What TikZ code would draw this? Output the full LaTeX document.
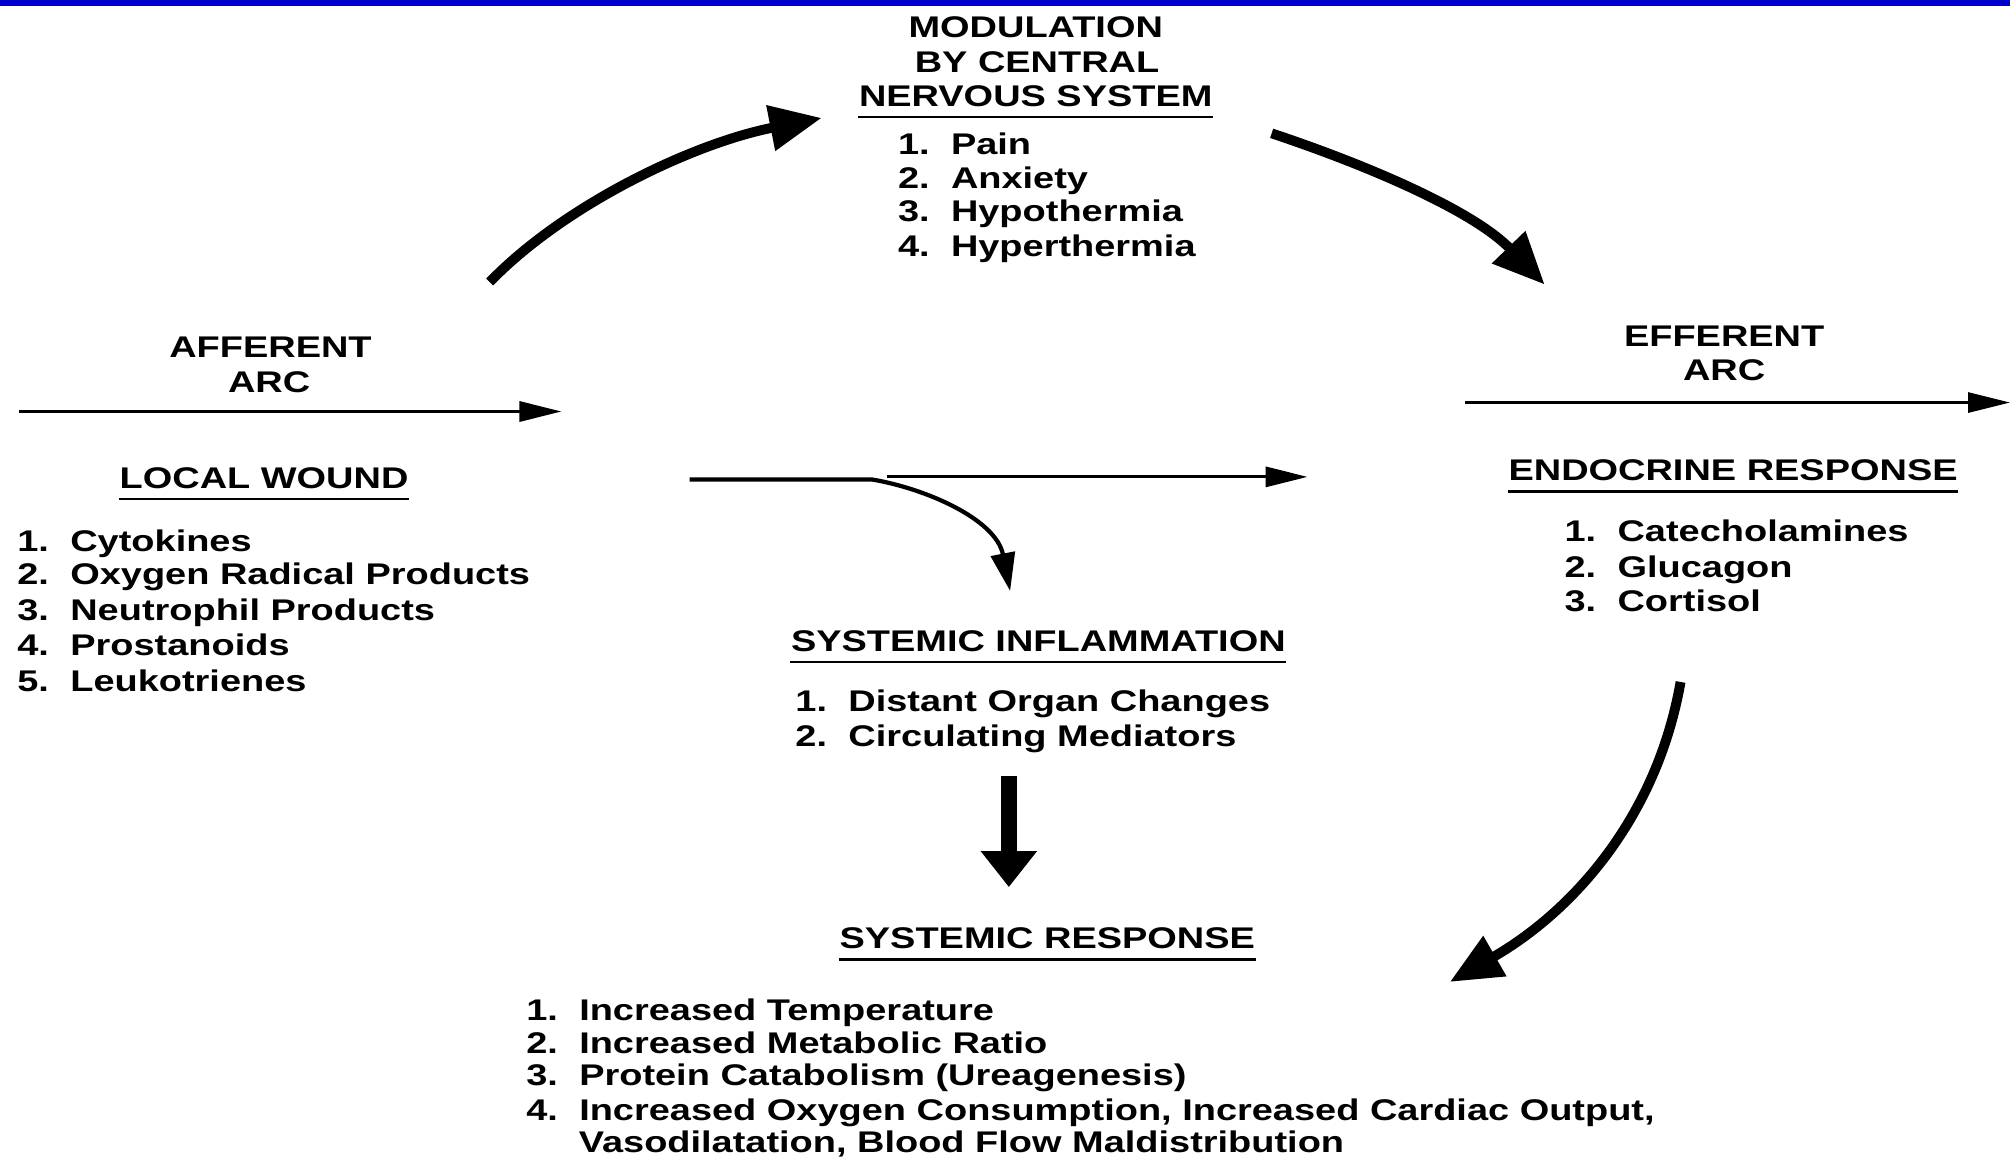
\documentclass[tikz,border=0pt]{standalone}
\usepackage{fontspec}
\setmainfont{Liberation Sans}[FakeStretch=1.27]
\usetikzlibrary{arrows.meta}
\definecolor{barblue}{RGB}{0,0,204}
% numbered list entry: number in a fixed-width box, then the text
\newcommand\itm[2]{\makebox[0.53cm][l]{#1}#2}
\begin{document}
\begin{tikzpicture}[x=0.012819cm, y=-0.012819cm,
  txt/.style={inner sep=0pt, yshift=-0.7pt, font=\fontsize{8.5}{10}\selectfont\bfseries},
  heading/.style={txt, anchor=mid},
  entry/.style={txt, anchor=mid west},
  ulrule/.style={line width=0.7pt},
  flowline/.style={line width=0.9pt, -{Triangle[length=0.42cm,width=0.2cm]}},
  sweep/.style={line width=2.8pt, -{Triangle[length=0.52cm,width=0.44cm]}},
]
\useasboundingbox (0,0) rectangle (1568,905);
\fill[white] (0,0) rectangle (1568,905);
\fill[barblue] (0,0) rectangle (1568,5);

% ---- central nervous system modulation (top) ----
\node[heading] (mod1) at (808,20) {MODULATION};
\node[heading] (mod2) at (809,47) {BY CENTRAL};
\node[heading] (mod3) at (808,74) {NERVOUS SYSTEM};
\draw[ulrule] ([yshift=-3pt]mod3.base west) -- ([yshift=-3pt]mod3.base east);
\node[entry] (cns1) at (700,111) {\itm{1.}{Pain}};
\node[entry] (cns2) at (700,138) {\itm{2.}{Anxiety}};
\node[entry] (cns3) at (700,164) {\itm{3.}{Hypothermia}};
\node[entry] (cns4) at (700,191) {\itm{4.}{Hyperthermia}};

% ---- afferent arc / local wound (left) ----
\node[heading] (aff1) at (211,270) {AFFERENT};
\node[heading] (aff2) at (210,297) {ARC};
\coordinate (affS) at (15,321);
\coordinate (affE) at (438,321);
\draw[flowline] (affS) -- (affE);
\node[heading] (lw) at (206,372) {LOCAL WOUND};
\draw[ulrule] ([yshift=-3pt]lw.base west) -- ([yshift=-3pt]lw.base east);
\node[entry] (lw1) at (13,421) {\itm{1.}{Cytokines}};
\node[entry] (lw2) at (13,447) {\itm{2.}{Oxygen Radical Products}};
\node[entry] (lw3) at (13,475) {\itm{3.}{Neutrophil Products}};
\node[entry] (lw4) at (13,502) {\itm{4.}{Prostanoids}};
\node[entry] (lw5) at (13,530) {\itm{5.}{Leukotrienes}};

% ---- efferent arc / endocrine response (right) ----
\node[heading] (eff1) at (1345,261) {EFFERENT};
\node[heading] (eff2) at (1345,288) {ARC};
\coordinate (effS) at (1143,314);
\coordinate (effE) at (1568,314);
\draw[flowline] (effS) -- (effE);
\node[heading] (endo) at (1352,366) {ENDOCRINE RESPONSE};
\draw[ulrule] ([yshift=-3pt]endo.base west) -- ([yshift=-3pt]endo.base east);
\node[entry] (endo1) at (1220,413) {\itm{1.}{Catecholamines}};
\node[entry] (endo2) at (1220,441) {\itm{2.}{Glucagon}};
\node[entry] (endo3) at (1220,468) {\itm{3.}{Cortisol}};

% ---- split flow in the middle ----
\coordinate (splitA) at (538,374);
\coordinate (splitB) at (680,374);
\coordinate (inflTip) at (788,461);
\draw[line width=1.2pt, -{Triangle[length=0.38cm,width=0.24cm]}]
  (splitA) -- (splitB) .. controls (722,381) and (777,405) .. (inflTip);
\coordinate (midA) at (692,372);
\coordinate (midB) at (1020,372);
\draw[flowline] (midA) -- (midB);

% ---- systemic inflammation ----
\node[heading] (si) at (810,499) {SYSTEMIC INFLAMMATION};
\draw[ulrule] ([yshift=-3pt]si.base west) -- ([yshift=-3pt]si.base east);
\node[entry] (si1) at (620,546) {\itm{1.}{Distant Organ Changes}};
\node[entry] (si2) at (620,573) {\itm{2.}{Circulating Mediators}};

% ---- systemic response ----
\node[heading] (sr) at (817,731) {SYSTEMIC RESPONSE};
\draw[ulrule] ([yshift=-3pt]sr.base west) -- ([yshift=-3pt]sr.base east);
\coordinate (downS) at (787,605);
\coordinate (downE) at (787,692);
\draw[line width=4.4pt, -{Triangle[length=0.36cm,width=0.54cm]}] (downS) -- (downE);
\node[entry] (sr1) at (410,787) {\itm{1.}{Increased Temperature}};
\node[entry] (sr2) at (410,813) {\itm{2.}{Increased Metabolic Ratio}};
\node[entry] (sr3) at (410,838) {\itm{3.}{Protein Catabolism (Ureagenesis)}};
\node[entry] (sr4) at (410,865) {\itm{4.}{Increased Oxygen Consumption, Increased Cardiac Output,}};
\node[entry] (sr5) at (451,890) {Vasodilatation, Blood Flow Maldistribution};

% ---- the three curved feedback arrows ----
\coordinate (a1s) at (382,220);
\coordinate (a1e) at (641,92);
\draw[sweep] (a1s) .. controls (440,160) and (540,112) .. (a1e);
\coordinate (a2s) at (992,104);
\coordinate (a2e) at (1205,222);
\draw[sweep] (a2s) .. controls (1070,130) and (1150,165) .. (a2e);
\coordinate (a3s) at (1311,532);
\coordinate (a3e) at (1131,766);
\draw[sweep] (a3s) .. controls (1292,640) and (1225,712) .. (a3e);
\end{tikzpicture}
\end{document}
